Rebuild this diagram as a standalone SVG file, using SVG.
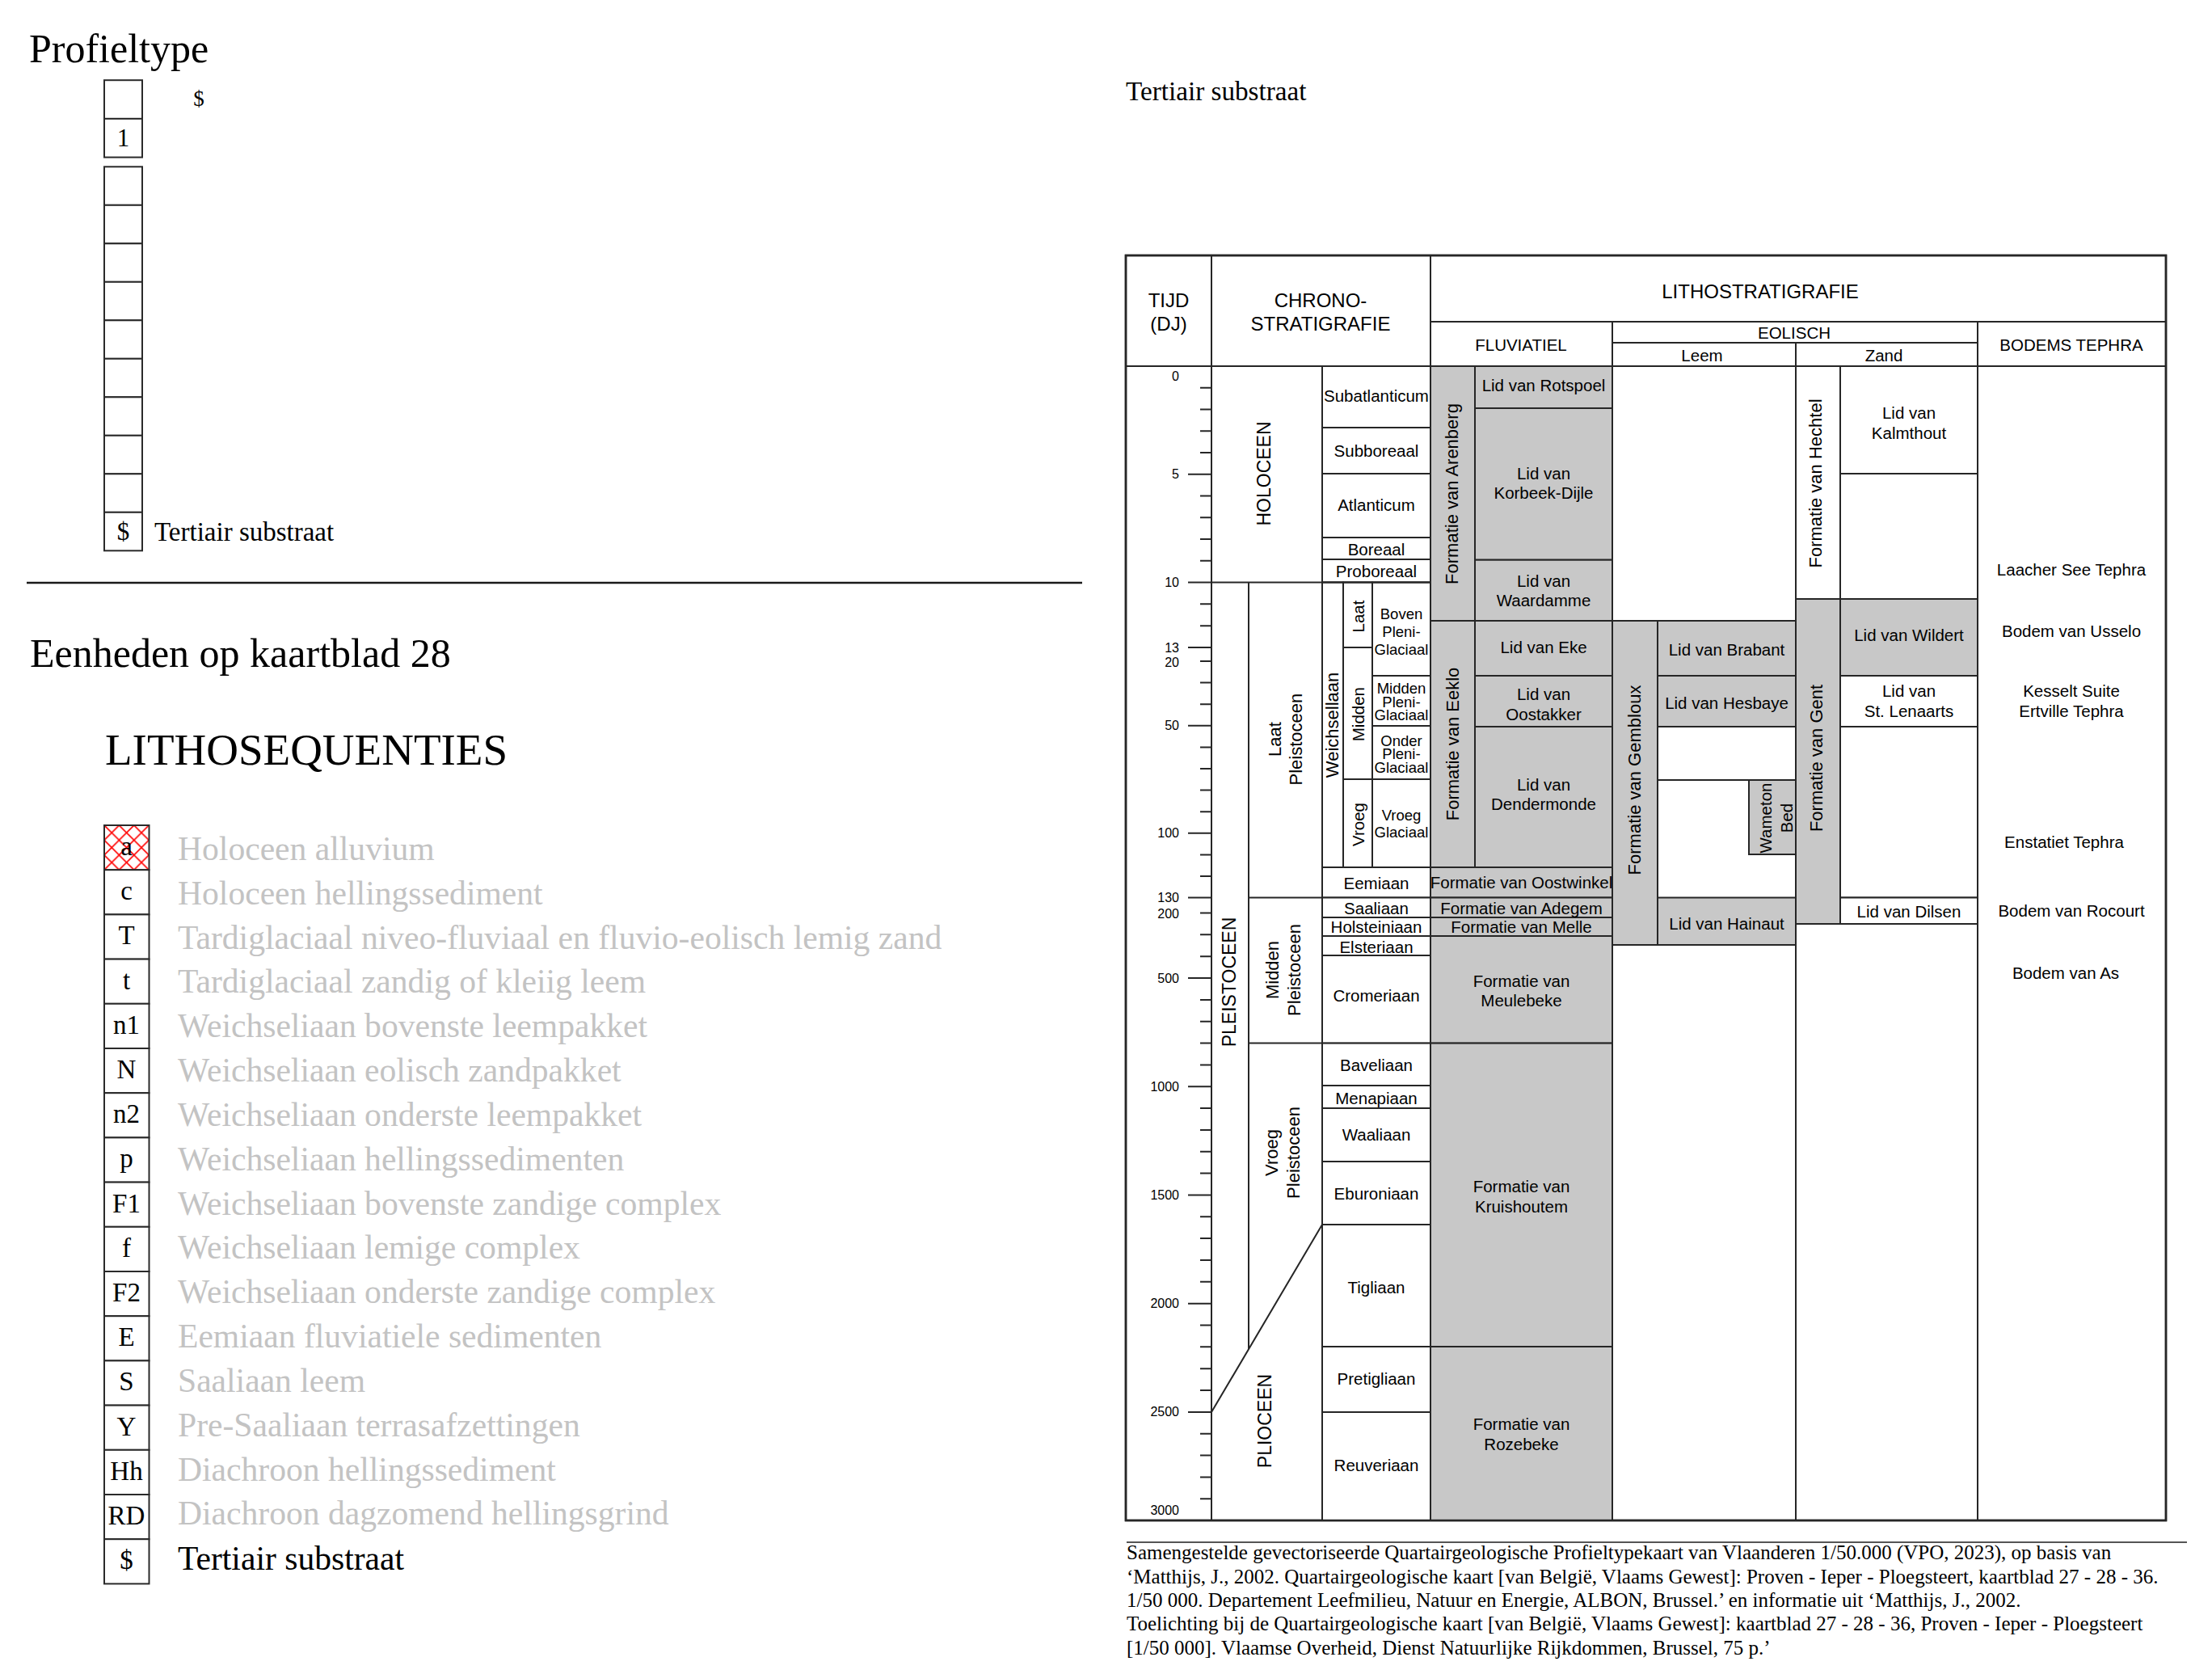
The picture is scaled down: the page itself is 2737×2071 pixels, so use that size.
<svg xmlns="http://www.w3.org/2000/svg" width="2737" height="2071" viewBox="0 0 2737 2071">
<defs>
<style>
.ln{stroke:#262626;stroke-width:2;fill:none}
.g{fill:#c8c8c8;stroke:#262626;stroke-width:2}
.w{fill:#fff;stroke:#262626;stroke-width:2}
.t{font-family:"Liberation Sans",Arial,sans-serif;font-size:20.5px;text-anchor:middle;dominant-baseline:central;fill:#000}
.h{font-size:24px}
.v{font-size:22px}
.big{font-size:23px}
.sm{font-size:18.5px}
.tk{font-family:"Liberation Sans",Arial,sans-serif;font-size:16px;text-anchor:end;dominant-baseline:central;fill:#000}
.s{font-family:"Liberation Serif","Times New Roman",serif;fill:#000}
.lg{font-family:"Liberation Serif","Times New Roman",serif;font-size:41.6px;fill:#c3c3c3}
.bx{fill:#fff;stroke:#2a2a2a;stroke-width:2}
.bl{font-family:"Liberation Serif","Times New Roman",serif;font-size:33px;text-anchor:middle;fill:#000}
.pb{font-family:"Liberation Serif","Times New Roman",serif;font-size:31px;text-anchor:middle;fill:#000}
.fn{font-family:"Liberation Serif","Times New Roman",serif;font-size:25px;fill:#000}
</style>
<pattern id="hatch" patternUnits="userSpaceOnUse" x="129" y="1021" width="18.4" height="18.4">
<path d="M0 0L18.4 18.4M18.4 0L0 18.4" stroke="#ff0000" stroke-width="1.6" fill="none"/>
</pattern>
</defs>
<rect width="2737" height="2071" fill="#fff"/>

<!-- Profieltype -->
<g id="profieltype">
<text class="s" x="36" y="77" font-size="50">Profieltype</text>
<rect class="bx" x="129" y="99.2" width="47" height="47.7"/>
<rect class="bx" x="129" y="146.9" width="47" height="47.7"/>
<text class="pb" x="152.5" y="181">1</text>
<text class="s" x="246" y="131" font-size="27" text-anchor="middle">$</text>
<rect class="bx" x="129" y="206.3" width="47" height="47.5"/>
<rect class="bx" x="129" y="253.8" width="47" height="47.5"/>
<rect class="bx" x="129" y="301.3" width="47" height="47.5"/>
<rect class="bx" x="129" y="348.8" width="47" height="47.5"/>
<rect class="bx" x="129" y="396.3" width="47" height="47.5"/>
<rect class="bx" x="129" y="443.8" width="47" height="47.5"/>
<rect class="bx" x="129" y="491.3" width="47" height="47.5"/>
<rect class="bx" x="129" y="538.8" width="47" height="47.5"/>
<rect class="bx" x="129" y="586.3" width="47" height="47.5"/>
<rect class="bx" x="129" y="633.8" width="47" height="47.5"/>
<text class="pb" x="152.5" y="668">$</text>
<text class="s" x="191" y="669" font-size="33">Tertiair substraat</text>
</g>
<line x1="33" y1="721" x2="1339" y2="721" stroke="#1a1a1a" stroke-width="2.5"/>

<!-- Legend -->
<g id="legend">
<text class="s" x="37" y="825" font-size="50">Eenheden op kaartblad 28</text>
<text class="s" x="130" y="946" font-size="55">LITHOSEQUENTIES</text>
<g id="leg-a"><rect x="129" y="1021" width="55.5" height="55.2" fill="url(#hatch)" stroke="#2a2a2a" stroke-width="2"/><text class="bl" x="156.5" y="1058">a</text><text class="lg" x="220" y="1064">Holoceen alluvium</text></g>
<g id="leg-c"><rect class="bx" x="129" y="1076.2" width="55.5" height="55.2"/><text class="bl" x="156.5" y="1113.2">c</text><text class="lg" x="220" y="1118.8">Holoceen hellingssediment</text></g>
<g id="leg-T"><rect class="bx" x="129" y="1131.4" width="55.5" height="55.2"/><text class="bl" x="156.5" y="1168.4">T</text><text class="lg" x="220" y="1173.6">Tardiglaciaal niveo-fluviaal en fluvio-eolisch lemig zand</text></g>
<g id="leg-t"><rect class="bx" x="129" y="1186.6" width="55.5" height="55.2"/><text class="bl" x="156.5" y="1223.6">t</text><text class="lg" x="220" y="1228.4">Tardiglaciaal zandig of kleiig leem</text></g>
<g id="leg-n1"><rect class="bx" x="129" y="1241.8" width="55.5" height="55.2"/><text class="bl" x="156.5" y="1278.8">n1</text><text class="lg" x="220" y="1283.2">Weichseliaan bovenste leempakket</text></g>
<g id="leg-N"><rect class="bx" x="129" y="1297" width="55.5" height="55.2"/><text class="bl" x="156.5" y="1334">N</text><text class="lg" x="220" y="1338.1">Weichseliaan eolisch zandpakket</text></g>
<g id="leg-n2"><rect class="bx" x="129" y="1352.2" width="55.5" height="55.2"/><text class="bl" x="156.5" y="1389.2">n2</text><text class="lg" x="220" y="1392.9">Weichseliaan onderste leempakket</text></g>
<g id="leg-p"><rect class="bx" x="129" y="1407.4" width="55.5" height="55.2"/><text class="bl" x="156.5" y="1444.4">p</text><text class="lg" x="220" y="1447.7">Weichseliaan hellingssedimenten</text></g>
<g id="leg-F1"><rect class="bx" x="129" y="1462.6" width="55.5" height="55.2"/><text class="bl" x="156.5" y="1499.6">F1</text><text class="lg" x="220" y="1502.5">Weichseliaan bovenste zandige complex</text></g>
<g id="leg-f"><rect class="bx" x="129" y="1517.8" width="55.5" height="55.2"/><text class="bl" x="156.5" y="1554.8">f</text><text class="lg" x="220" y="1557.3">Weichseliaan lemige complex</text></g>
<g id="leg-F2"><rect class="bx" x="129" y="1573" width="55.5" height="55.2"/><text class="bl" x="156.5" y="1610">F2</text><text class="lg" x="220" y="1612.1">Weichseliaan onderste zandige complex</text></g>
<g id="leg-E"><rect class="bx" x="129" y="1628.2" width="55.5" height="55.2"/><text class="bl" x="156.5" y="1665.2">E</text><text class="lg" x="220" y="1666.9">Eemiaan fluviatiele sedimenten</text></g>
<g id="leg-S"><rect class="bx" x="129" y="1683.4" width="55.5" height="55.2"/><text class="bl" x="156.5" y="1720.4">S</text><text class="lg" x="220" y="1721.7">Saaliaan leem</text></g>
<g id="leg-Y"><rect class="bx" x="129" y="1738.6" width="55.5" height="55.2"/><text class="bl" x="156.5" y="1775.6">Y</text><text class="lg" x="220" y="1776.5">Pre-Saaliaan terrasafzettingen</text></g>
<g id="leg-Hh"><rect class="bx" x="129" y="1793.8" width="55.5" height="55.2"/><text class="bl" x="156.5" y="1830.8">Hh</text><text class="lg" x="220" y="1832.3">Diachroon hellingssediment</text></g>
<g id="leg-RD"><rect class="bx" x="129" y="1849" width="55.5" height="55.2"/><text class="bl" x="156.5" y="1886">RD</text><text class="lg" x="220" y="1886.2">Diachroon dagzomend hellingsgrind</text></g>
<g id="leg-dollar"><rect class="bx" x="129" y="1904.2" width="55.5" height="55.2"/><text class="bl" x="156.5" y="1941.2">$</text><text class="s" x="220" y="1942" font-size="41.6">Tertiair substraat</text></g>
</g>

<text class="s" x="1393" y="124" font-size="33.2">Tertiair substraat</text>

<!-- Chart -->
<g id="chart">
<rect x="1393" y="316" width="1287" height="1565" fill="#fff" stroke="#262626" stroke-width="2.5"/>

<g id="fluviatiel">
<rect class="g" x="1770" y="453" width="55" height="315"/>
<rect class="g" x="1825" y="453" width="170" height="52"/>
<rect class="g" x="1825" y="505" width="170" height="187.7"/>
<rect class="g" x="1825" y="692.7" width="170" height="75.3"/>
<rect class="g" x="1770" y="768" width="55" height="305"/>
<rect class="g" x="1825" y="768" width="170" height="68"/>
<rect class="g" x="1825" y="836" width="170" height="63"/>
<rect class="g" x="1825" y="899" width="170" height="174"/>
<rect class="g" x="1770" y="1073" width="225" height="37.5"/>
<rect class="g" x="1770" y="1110.5" width="225" height="24.5"/>
<rect class="g" x="1770" y="1135" width="225" height="23"/>
<rect class="g" x="1770" y="1158" width="225" height="132.6"/>
<rect class="g" x="1770" y="1290.6" width="225" height="375.4"/>
<rect class="g" x="1770" y="1666" width="225" height="215"/>
</g>
<g id="leem">
<rect class="g" x="1995" y="768" width="56" height="401"/>
<rect class="g" x="2051" y="768" width="171" height="68"/>
<rect class="g" x="2051" y="836" width="171" height="63"/>
<line class="ln" x1="2051" y1="965" x2="2222" y2="965"/>
<rect class="g" x="2164" y="965" width="58" height="92"/>
<rect class="g" x="2051" y="1110.5" width="171" height="58.5"/>
</g>
<g id="zand">
<rect class="w" x="2222" y="453" width="55" height="288"/>
<rect class="w" x="2277" y="453" width="170" height="133"/>
<rect class="w" x="2277" y="586" width="170" height="155"/>
<rect class="g" x="2222" y="741" width="55" height="402"/>
<rect class="g" x="2277" y="741" width="170" height="95"/>
<rect class="w" x="2277" y="836" width="170" height="63"/>
<rect class="w" x="2277" y="899" width="170" height="211.5"/>
<rect class="w" x="2277" y="1110.5" width="170" height="32.5"/>
</g>

<g id="chrono">
<rect class="w" x="1636" y="453" width="134" height="76"/>
<rect class="w" x="1636" y="529" width="134" height="57"/>
<rect class="w" x="1636" y="586" width="134" height="79"/>
<rect class="w" x="1636" y="665" width="134" height="27"/>
<rect class="w" x="1636" y="692" width="134" height="28.5"/>
<rect class="w" x="1636" y="720.5" width="26" height="352.5"/>
<rect class="w" x="1662" y="720.5" width="36" height="80.5"/>
<rect class="w" x="1662" y="801" width="36" height="163"/>
<rect class="w" x="1662" y="964" width="36" height="109"/>
<rect class="w" x="1698" y="720.5" width="72" height="115.5"/>
<rect class="w" x="1698" y="836" width="72" height="62"/>
<rect class="w" x="1698" y="898" width="72" height="66"/>
<rect class="w" x="1698" y="964" width="72" height="109"/>
<rect class="w" x="1636" y="1073" width="134" height="37.5"/>
<rect class="w" x="1636" y="1110.5" width="134" height="24.5"/>
<rect class="w" x="1636" y="1135" width="134" height="23"/>
<rect class="w" x="1636" y="1158" width="134" height="24"/>
<rect class="w" x="1636" y="1182" width="134" height="108.6"/>
<rect class="w" x="1636" y="1290.6" width="134" height="52.4"/>
<rect class="w" x="1636" y="1343" width="134" height="28"/>
<rect class="w" x="1636" y="1371" width="134" height="66"/>
<rect class="w" x="1636" y="1437" width="134" height="78"/>
<rect class="w" x="1636" y="1515" width="134" height="151"/>
<rect class="w" x="1636" y="1666" width="134" height="81"/>
<rect class="w" x="1636" y="1747" width="134" height="134"/>
<path class="ln" d="M1470 720.5H1770M1545 720.5V1668.5M1545 1110.5H1636M1545 1290.6H1636M1499 1747L1636 1515"/>
</g>

<g id="frame">
<path class="ln" d="M1393 453H2680M1770 398H2680M1995 424H2447M1499 316V1881M1770 316V1881M1995 398V1881M2222 424V1881M2447 398V1881M1636 453V1881"/>
<rect x="1393" y="316" width="1287" height="1565" fill="none" stroke="#262626" stroke-width="2.5"/>
</g>

<g id="ticks">
<path class="ln" d="M1485 479.75H1499M1485 506.5H1499M1485 533.25H1499M1485 560H1499M1470 586.75H1499M1485 613.5H1499M1485 640.25H1499M1485 667H1499M1485 693.75H1499M1485 747.3H1499M1485 774.2H1499M1470 801H1499M1485 818H1499M1485 844.6H1499M1485 871.2H1499M1470 897.8H1499M1485 924.4H1499M1485 951H1499M1485 977.6H1499M1485 1004.2H1499M1470 1030.8H1499M1485 1057.4H1499M1485 1084H1499M1470 1110.5H1499M1485 1129.5H1499M1485 1156.3H1499M1485 1183.2H1499M1470 1210H1499M1485 1236.9H1499M1485 1263.7H1499M1485 1290.5H1499M1485 1317.4H1499M1470 1344.2H1499M1485 1371.1H1499M1485 1397.9H1499M1485 1424.8H1499M1485 1451.6H1499M1470 1478.4H1499M1485 1505.3H1499M1485 1532.1H1499M1485 1559H1499M1485 1585.8H1499M1470 1612.7H1499M1485 1639.5H1499M1485 1666.3H1499M1485 1693.2H1499M1485 1720H1499M1470 1746.9H1499M1485 1773.7H1499M1485 1800.6H1499M1485 1827.4H1499M1485 1854.3H1499"/>
<text class="tk" x="1459" y="465">0</text>
<text class="tk" x="1459" y="586.75">5</text>
<text class="tk" x="1459" y="720.5">10</text>
<text class="tk" x="1459" y="801">13</text>
<text class="tk" x="1459" y="819">20</text>
<text class="tk" x="1459" y="897.8">50</text>
<text class="tk" x="1459" y="1030.8">100</text>
<text class="tk" x="1459" y="1110.5">130</text>
<text class="tk" x="1459" y="1130">200</text>
<text class="tk" x="1459" y="1210">500</text>
<text class="tk" x="1459" y="1344.2">1000</text>
<text class="tk" x="1459" y="1478.4">1500</text>
<text class="tk" x="1459" y="1612.7">2000</text>
<text class="tk" x="1459" y="1746.9">2500</text>
<text class="tk" x="1459" y="1868">3000</text>
</g>

<g id="header">
<text class="t h" x="1446" y="371">TIJD</text>
<text class="t h" x="1446" y="400">(DJ)</text>
<text class="t h" x="1634" y="371">CHRONO-</text>
<text class="t h" x="1634" y="400">STRATIGRAFIE</text>
<text class="t h" x="2178" y="360">LITHOSTRATIGRAFIE</text>
<text class="t" x="1882" y="426">FLUVIATIEL</text>
<text class="t" x="2220" y="411">EOLISCH</text>
<text class="t" x="2106" y="439">Leem</text>
<text class="t" x="2331" y="439">Zand</text>
<text class="t" x="2563" y="426">BODEMS TEPHRA</text>
</g>

<g id="chrono-labels">
<text class="t big" transform="translate(1564,586) rotate(-90)">HOLOCEEN</text>
<text class="t big" transform="translate(1521,1215) rotate(-90)">PLEISTOCEEN</text>
<text class="t big" transform="translate(1565,1758) rotate(-90)">PLIOCEEN</text>
<text class="t v" transform="translate(1590,914.6) rotate(-90)"><tspan x="0" y="-13">Laat</tspan><tspan x="0" y="13">Pleistoceen</tspan></text>
<text class="t v" transform="translate(1587.5,1200) rotate(-90)"><tspan x="0" y="-13.5">Midden</tspan><tspan x="0" y="13.5">Pleistoceen</tspan></text>
<text class="t v" transform="translate(1586.5,1426) rotate(-90)"><tspan x="0" y="-13.5">Vroeg</tspan><tspan x="0" y="13.5">Pleistoceen</tspan></text>
<text class="t v" transform="translate(1648,897) rotate(-90)">Weichsellaan</text>
<text class="t" transform="translate(1680,762.5) rotate(-90)">Laat</text>
<text class="t" transform="translate(1680,883.6) rotate(-90)">Midden</text>
<text class="t" transform="translate(1680,1020) rotate(-90)">Vroeg</text>
<text class="t sm" x="1734" y="759">Boven</text>
<text class="t sm" x="1734" y="781">Pleni-</text>
<text class="t sm" x="1734" y="803.5">Glaciaal</text>
<text class="t sm" x="1734" y="851.5">Midden</text>
<text class="t sm" x="1734" y="868">Pleni-</text>
<text class="t sm" x="1734" y="884.5">Glaciaal</text>
<text class="t sm" x="1734" y="916">Onder</text>
<text class="t sm" x="1734" y="932.5">Pleni-</text>
<text class="t sm" x="1734" y="949">Glaciaal</text>
<text class="t sm" x="1734" y="1008">Vroeg</text>
<text class="t sm" x="1734" y="1029.5">Glaciaal</text>
<text class="t" x="1703" y="489">Subatlanticum</text>
<text class="t" x="1703" y="557">Subboreaal</text>
<text class="t" x="1703" y="624">Atlanticum</text>
<text class="t" x="1703" y="679">Boreaal</text>
<text class="t" x="1703" y="706.5">Proboreaal</text>
<text class="t" x="1703" y="1092">Eemiaan</text>
<text class="t" x="1703" y="1123">Saaliaan</text>
<text class="t" x="1703" y="1146.5">Holsteiniaan</text>
<text class="t" x="1703" y="1171">Elsteriaan</text>
<text class="t" x="1703" y="1231">Cromeriaan</text>
<text class="t" x="1703" y="1317.5">Baveliaan</text>
<text class="t" x="1703" y="1358.5">Menapiaan</text>
<text class="t" x="1703" y="1403.5">Waaliaan</text>
<text class="t" x="1703" y="1476">Eburoniaan</text>
<text class="t" x="1703" y="1592.5">Tigliaan</text>
<text class="t" x="1703" y="1705">Pretigliaan</text>
<text class="t" x="1703" y="1812.5">Reuveriaan</text>
</g>

<g id="litho-labels">
<text class="t v" transform="translate(1796,611) rotate(-90)">Formatie van Arenberg</text>
<text class="t v" transform="translate(1797,920.5) rotate(-90)">Formatie van Eeklo</text>
<text class="t v" transform="translate(2022,965) rotate(-90)">Formatie van Gembloux</text>
<text class="t v" transform="translate(2246,598) rotate(-90)">Formatie van Hechtel</text>
<text class="t v" transform="translate(2247,938) rotate(-90)">Formatie van Gent</text>
<text class="t" transform="translate(2197,1012) rotate(-90)"><tspan x="0" y="-13">Wameton</tspan><tspan x="0" y="13">Bed</tspan></text>
<text class="t" x="1910" y="476">Lid van Rotspoel</text>
<text class="t" x="1910" y="585">Lid van</text>
<text class="t" x="1910" y="609.5">Korbeek-Dijle</text>
<text class="t" x="1910" y="718.5">Lid van</text>
<text class="t" x="1910" y="742.5">Waardamme</text>
<text class="t" x="1910" y="800">Lid van Eke</text>
<text class="t" x="1910" y="858">Lid van</text>
<text class="t" x="1910" y="883">Oostakker</text>
<text class="t" x="1910" y="970">Lid van</text>
<text class="t" x="1910" y="994.5">Dendermonde</text>
<text class="t" x="1882.5" y="1091.5">Formatie van Oostwinkel</text>
<text class="t" x="1882.5" y="1123">Formatie van Adegem</text>
<text class="t" x="1882.5" y="1146.5">Formatie van Melle</text>
<text class="t" x="1882.5" y="1213">Formatie van</text>
<text class="t" x="1882.5" y="1237.5">Meulebeke</text>
<text class="t" x="1882.5" y="1467">Formatie van</text>
<text class="t" x="1882.5" y="1492.5">Kruishoutem</text>
<text class="t" x="1882.5" y="1761">Formatie van</text>
<text class="t" x="1882.5" y="1786">Rozebeke</text>
<text class="t" x="2136.5" y="803.5">Lid van Brabant</text>
<text class="t" x="2136.5" y="869.5">Lid van Hesbaye</text>
<text class="t" x="2136.5" y="1142">Lid van Hainaut</text>
<text class="t" x="2362" y="510.5">Lid van</text>
<text class="t" x="2362" y="535.5">Kalmthout</text>
<text class="t" x="2362" y="785.5">Lid van Wildert</text>
<text class="t" x="2362" y="854.5">Lid van</text>
<text class="t" x="2362" y="879.5">St. Lenaarts</text>
<text class="t" x="2362" y="1127">Lid van Dilsen</text>
</g>

<g id="tephra-labels">
<text class="t" x="2563" y="704">Laacher See Tephra</text>
<text class="t" x="2563" y="780.5">Bodem van Usselo</text>
<text class="t" x="2563" y="854.5">Kesselt Suite</text>
<text class="t" x="2563" y="879.5">Ertville Tephra</text>
<text class="t" x="2554" y="1041">Enstatiet Tephra</text>
<text class="t" x="2563" y="1126">Bodem van Rocourt</text>
<text class="t" x="2556" y="1203.5">Bodem van As</text>
</g>
</g>

<g id="footnote">
<line x1="1394" y1="1908" x2="2706" y2="1908" stroke="#555" stroke-width="2"/>
<text class="fn" x="1394" y="1929">Samengestelde gevectoriseerde Quartairgeologische Profieltypekaart van Vlaanderen 1/50.000 (VPO, 2023), op basis van</text>
<text class="fn" x="1394" y="1958.5">‘Matthijs, J., 2002. Quartairgeologische kaart [van België, Vlaams Gewest]: Proven - Ieper - Ploegsteert, kaartblad 27 - 28 - 36.</text>
<text class="fn" x="1394" y="1988">1/50 000. Departement Leefmilieu, Natuur en Energie, ALBON, Brussel.’ en informatie uit ‘Matthijs, J., 2002.</text>
<text class="fn" x="1394" y="2017">Toelichting bij de Quartairgeologische kaart [van België, Vlaams Gewest]: kaartblad 27 - 28 - 36, Proven - Ieper - Ploegsteert</text>
<text class="fn" x="1394" y="2046.5">[1/50 000]. Vlaamse Overheid, Dienst Natuurlijke Rijkdommen, Brussel, 75 p.’</text>
</g>
</svg>
